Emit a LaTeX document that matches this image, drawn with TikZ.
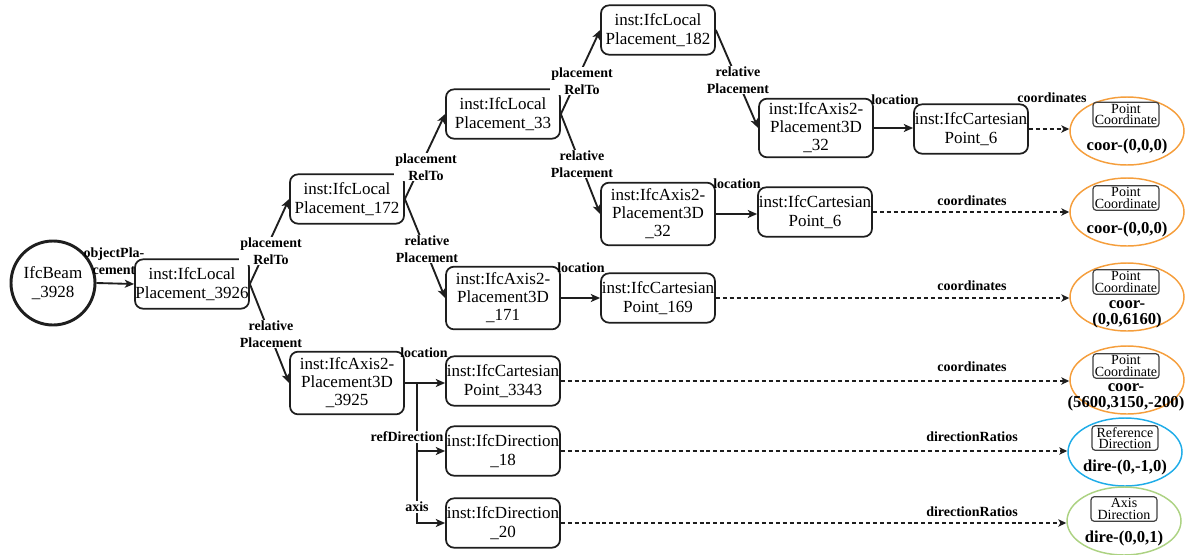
\documentclass[tikz,border=0pt]{standalone}
\usepackage{fontspec}
\setmainfont{LiberationSerif}[Extension=.ttf, UprightFont=*-Regular, BoldFont=*-Bold, ItalicFont=*-Italic, BoldItalicFont=*-BoldItalic]
\usetikzlibrary{arrows.meta,shapes.geometric}
\definecolor{ptorange}{RGB}{245,158,60}
\definecolor{refblue}{RGB}{30,172,232}
\definecolor{axgreen}{RGB}{172,210,130}
\definecolor{ink}{RGB}{30,30,30}

\begin{document}
\begin{tikzpicture}[x=0.75pt,y=-0.75pt,
  inst/.style={draw=ink, line width=1.3pt, rounded corners=6pt, inner sep=0pt,
    align=center, minimum width=85.5pt, minimum height=37pt,
    font=\fontsize{12.75}{14.5}\selectfont},
  axisbox/.style={inst, minimum height=47pt, font=\fontsize{12.75}{13.5}\selectfont},
  beamnode/.style={circle, draw=ink, line width=2.2pt, minimum size=63pt, inner sep=0pt,
    align=center, font=\fontsize{12.75}{14.5}\selectfont},
  valnode/.style={ellipse, line width=1.1pt, minimum width=85.5pt, minimum height=51pt, inner sep=0pt},
  tag/.style={draw=ink!85, line width=0.9pt, rounded corners=2.5pt, inner sep=0pt,
    minimum width=49.5pt, minimum height=18.5pt, align=center,
    font=\fontsize{10.5}{8.8}\selectfont},
  val/.style={font=\bfseries\fontsize{12.5}{12}\selectfont, align=center, inner sep=0pt},
  lbl/.style={font=\bfseries\fontsize{10.5}{12.75}\selectfont, align=center, inner sep=0.6pt},
  lblw/.style={lbl, fill=white},
  link/.style={draw=ink, line width=1.4pt, -{Stealth[length=7pt,width=6pt,inset=1.8pt]}},
  plain/.style={draw=ink, line width=1.4pt},
  dlink/.style={draw=ink, line width=1.1pt, dash pattern=on 3pt off 2.2pt,
    -{Stealth[length=6pt,width=5.5pt,inset=1.6pt]}}
]
\useasboundingbox (0,0) rectangle (1192,554);

% entity and placement chain
\node[beamnode] (beam) at (53,283) {IfcBeam\\\_3928};
\node[inst] (lp3926) at (192,284) {inst:IfcLocal\\Placement\_3926};
\node[inst] (lp172) at (347,199) {inst:IfcLocal\\Placement\_172};
\node[inst] (lp33) at (503,114) {inst:IfcLocal\\Placement\_33};
\node[inst] (lp182) at (658,30) {inst:IfcLocal\\Placement\_182};

% axis placements
\node[axisbox, minimum height=44pt] (a32u) at (816,128) {inst:IfcAxis2-\\Placement3D\\\_32};
\node[axisbox] (a32l) at (658,214) {inst:IfcAxis2-\\Placement3D\\\_32};
\node[axisbox] (a171) at (503,298) {inst:IfcAxis2-\\Placement3D\\\_171};
\node[axisbox] (a3925) at (347,383) {inst:IfcAxis2-\\Placement3D\\\_3925};

% points and directions
\node[inst] (cp6u) at (971,129) {inst:IfcCartesian\\Point\_6};
\node[inst] (cp6l) at (815,212) {inst:IfcCartesian\\Point\_6};
\node[inst] (cp169) at (658,298) {inst:IfcCartesian\\Point\_169};
\node[inst] (cp3343) at (503,381) {inst:IfcCartesian\\Point\_3343};
\node[inst] (dir18) at (503,451) {inst:IfcDirection\\\_18};
\node[inst] (dir20) at (503,523) {inst:IfcDirection\\\_20};

% value ellipses
\node[valnode, draw=ptorange] (e1) at (1127,131) {};
\node[tag] (t1) at (1126,114.5) {Point\\Coordinate};
\node[val] (v1) at (1127,146) {coor-(0,0,0)};

\node[valnode, draw=ptorange] (e2) at (1127,212) {};
\node[tag] (t2) at (1126,198) {Point\\Coordinate};
\node[val] (v2) at (1127,229) {coor-(0,0,0)};

\node[valnode, draw=ptorange] (e3) at (1127,297) {};
\node[tag] (t3) at (1126,282) {Point\\Coordinate};
\node[val] (v3) at (1127,314) {coor-\\(0,0,6160)};

\node[valnode, draw=ptorange] (e4) at (1127,380) {};
\node[tag] (t4) at (1126,366) {Point\\Coordinate};
\node[val] (v4) at (1126,397) {coor-\\(5600,3150,-200)};

\node[valnode, draw=refblue] (e5) at (1125,452) {};
\node[tag] (t5) at (1125,438) {Reference\\Direction};
\node[val] (v5) at (1125,467) {dire-(0,-1,0)};

\node[valnode, draw=axgreen] (e6) at (1124,521) {};
\node[tag] (t6) at (1124,509) {Axis\\Direction};
\node[val] (v6) at (1124,538) {dire-(0,0,1)};

% solid relations
\draw[link] (beam.east) -- (lp3926.west);
\draw[link] (lp3926.east) -- (lp172.west);
\draw[link] (lp3926.east) -- (a3925.west);
\draw[link] (lp172.east) -- (lp33.west);
\draw[link] (lp172.east) -- (a171.west);
\draw[link] (lp33.east) -- (lp182.west);
\draw[link] (lp33.east) -- (a32l.west);
\draw[link] (lp182.east) -- (a32u.west);
\draw[link] (a32u.east) -- (a32u.east -| cp6u.west);
\draw[link] (a32l.east) -- (a32l.east -| cp6l.west);
\draw[link] (a171.east) -- (a171.east -| cp169.west);
\coordinate (br) at (417,383);
\draw[link] (a3925.east) -- (a3925.east -| cp3343.west);
\draw[plain] (br) -- (417,452);
\draw[link] (br) |- (dir18.west);
\draw[link] (br) |- (dir20.west);

% literal values
\draw[dlink] (cp6u.east) -- (cp6u.east -| e1.west);
\draw[dlink] (cp6l.east) -- (cp6l.east -| e2.west);
\draw[dlink] (cp169.east) -- (cp169.east -| e3.west);
\draw[dlink] (cp3343.east) -- (cp3343.east -| e4.west);
\draw[dlink] (dir18.east) -- (dir18.east -| e5.west);
\draw[dlink] (dir20.east) -- (dir20.east -| e6.west);

% relation labels
\node[lbl] (l0) at (114,261) {objectPla-\\cement};
\node[lblw] (l1) at (271,251) {placement\\RelTo};
\node[lblw] (l2) at (271,334) {relative\\Placement};
\node[lblw] (l3) at (426,167) {placement\\RelTo};
\node[lblw] (l4) at (427,249) {relative\\Placement};
\node[lblw] (l5) at (582,81) {placement\\RelTo};
\node[lblw] (l6) at (582,164) {relative\\Placement};
\node[lblw] (l7) at (738,80) {relative\\Placement};
\node[lbl] (l8) at (895,100) {location};
\node[lbl] (l9) at (737,184) {location};
\node[lbl] (l10) at (581,268) {location};
\node[lbl] (l11) at (424,353) {location};
\node[lblw] (l12) at (407,437) {refDirection};
\node[lblw] (l13) at (417,507) {axis};
\node[lbl] (l14) at (1052,98) {coordinates};
\node[lbl] (l15) at (972,201) {coordinates};
\node[lbl] (l16) at (972,286) {coordinates};
\node[lbl] (l17) at (972,367) {coordinates};
\node[lbl] (l18) at (972,437) {directionRatios};
\node[lbl] (l19) at (972,512) {directionRatios};
\end{tikzpicture}
\end{document}
